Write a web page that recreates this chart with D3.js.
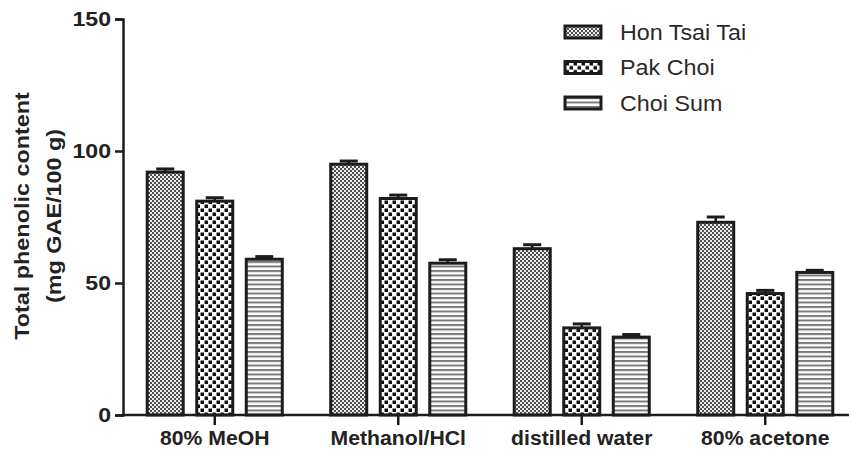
<!DOCTYPE html>
<html>
<head>
<meta charset="utf-8">
<script src="https://cdn.jsdelivr.net/npm/d3@7"></script>
<style>
  html, body { margin: 0; padding: 0; background: #fff; }
  svg { display: block; font-family: "Liberation Sans", Arial, sans-serif; }
</style>
</head>
<body>
<svg id="chart" width="853" height="454"></svg>
<script>
// Extraction solvents (x categories)
const categories = ["80% MeOH", "Methanol/HCl", "distilled water", "80% acetone"];
// Cultivars (series)
const seriesNames = ["Hon Tsai Tai", "Pak Choi", "Choi Sum"];
// Mean total phenolic content, mg GAE/100 g
const honTsaiTai = [92, 95, 63, 73];
const pakChoi = [81, 82, 33, 46];
const choiSum = [59, 57.5, 29.5, 54];
// Standard error of each mean
const honTsaiTaiErr = [1.2, 1.2, 1.5, 2];
const pakChoiErr = [1.3, 1.3, 1.5, 1.2];
const choiSumErr = [1, 1.3, 1, 0.8];
// Y-axis ticks
const yTicks = [0, 50, 100, 150];

const seriesValues = [honTsaiTai, pakChoi, choiSum];
const seriesErrors = [honTsaiTaiErr, pakChoiErr, choiSumErr];

const ink = "#1c1c1c";
const svg = d3.select("#chart");

// Fill patterns for the three cultivars
const defs = svg.append("defs");
const pFine = defs.append("pattern").attr("id", "pat0")
  .attr("patternUnits", "userSpaceOnUse").attr("width", 4).attr("height", 4);
pFine.append("rect").attr("width", 4).attr("height", 4).attr("fill", "#ebebeb");
pFine.append("rect").attr("x", 0).attr("y", 0).attr("width", 2).attr("height", 2).attr("fill", "#505050");
pFine.append("rect").attr("x", 2).attr("y", 2).attr("width", 2).attr("height", 2).attr("fill", "#505050");

const pCheck = defs.append("pattern").attr("id", "pat1")
  .attr("patternUnits", "userSpaceOnUse").attr("width", 8).attr("height", 8);
pCheck.append("rect").attr("width", 8).attr("height", 8).attr("fill", "#fff");
pCheck.append("rect").attr("x", 0.5).attr("y", 0.5).attr("width", 3.5).attr("height", 3.5).attr("fill", "#111");
pCheck.append("rect").attr("x", 4.5).attr("y", 4.5).attr("width", 3.5).attr("height", 3.5).attr("fill", "#111");

const pStripe = defs.append("pattern").attr("id", "pat2")
  .attr("patternUnits", "userSpaceOnUse").attr("width", 4.5).attr("height", 4.5);
pStripe.append("rect").attr("width", 4.5).attr("height", 4.5).attr("fill", "#fff");
pStripe.append("rect").attr("x", 0).attr("y", 0).attr("width", 4.5).attr("height", 2).attr("fill", "#7a7a7a");

// Scales
const x0 = d3.scaleBand().domain(categories).range([123, 857])
  .paddingInner(0.264).paddingOuter(0.132);
const x1 = d3.scaleBand().domain(seriesNames).range([0, x0.bandwidth()]).paddingInner(0.273);
const y = d3.scaleLinear().domain([0, 150]).range([415, 19]);

// Bars
const rows = [];
categories.forEach((c, i) => {
  seriesNames.forEach((s, j) => {
    rows.push({ cat: c, s: s, j: j, v: seriesValues[j][i], e: seriesErrors[j][i] });
  });
});

const g = svg.append("g");
const capHalf = x1.bandwidth() * 0.25;

// Error bars (drawn first so the bar outline sits over the stem)
const eb = g.selectAll("g.err").data(rows).join("g").attr("class", "err");
eb.append("line")
  .attr("x1", d => x0(d.cat) + x1(d.s) + x1.bandwidth() / 2)
  .attr("x2", d => x0(d.cat) + x1(d.s) + x1.bandwidth() / 2)
  .attr("y1", d => y(d.v))
  .attr("y2", d => y(d.v + d.e))
  .attr("stroke", ink).attr("stroke-width", 2.5);
eb.append("line")
  .attr("x1", d => x0(d.cat) + x1(d.s) + x1.bandwidth() / 2 - capHalf)
  .attr("x2", d => x0(d.cat) + x1(d.s) + x1.bandwidth() / 2 + capHalf)
  .attr("y1", d => y(d.v + d.e))
  .attr("y2", d => y(d.v + d.e))
  .attr("stroke", ink).attr("stroke-width", 3);

g.selectAll("rect.bar").data(rows).join("rect").attr("class", "bar")
  .attr("x", d => x0(d.cat) + x1(d.s))
  .attr("y", d => y(d.v))
  .attr("width", x1.bandwidth())
  .attr("height", d => y(0) - y(d.v))
  .attr("fill", d => `url(#pat${d.j})`)
  .attr("stroke", ink).attr("stroke-width", 3);

// Y axis
const yAxis = svg.append("g").attr("transform", "translate(123,0)")
  .call(d3.axisLeft(y).tickValues(yTicks).tickSize(8).tickPadding(4));
yAxis.select(".domain").attr("stroke", ink).attr("stroke-width", 2.5);
yAxis.selectAll(".tick line").attr("stroke", ink).attr("stroke-width", 2.5);
const yStretch = 1.1;
yAxis.selectAll(".tick text")
  .attr("font-size", 21).attr("font-weight", "bold").attr("fill", "#222")
  .attr("font-family", "Liberation Sans, Arial, sans-serif")
  .attr("x", -12 / yStretch)
  .attr("transform", `scale(${yStretch},1)`);

// X axis
const xAxis = svg.append("g").attr("transform", "translate(0,415)")
  .call(d3.axisBottom(x0).tickSize(10).tickPadding(6).tickSizeOuter(0));
xAxis.select(".domain").remove();
xAxis.append("line").attr("x1", 122).attr("x2", 849).attr("y1", 0).attr("y2", 0)
  .attr("stroke", ink).attr("stroke-width", 2.5);
xAxis.selectAll(".tick line").attr("stroke", ink).attr("stroke-width", 2.5);
xAxis.selectAll(".tick text")
  .attr("font-size", 20).attr("font-weight", "bold").attr("fill", "#222")
  .attr("font-family", "Liberation Sans, Arial, sans-serif")
  .attr("transform", "scale(1.06,1)");

// Y-axis title (two lines), slightly stretched along its length
const title = svg.append("text")
  .attr("transform", "translate(0,216) rotate(-90) scale(1.17,1)")
  .attr("text-anchor", "middle")
  .attr("font-size", 20).attr("font-weight", "bold").attr("fill", "#222");
title.append("tspan").attr("x", 0).attr("y", 29).text("Total phenolic content");
title.append("tspan").attr("x", 0).attr("y", 61).text("(mg GAE/100 g)");

// Legend
const legend = svg.append("g").selectAll("g").data(seriesNames).join("g")
  .attr("transform", (d, i) => `translate(565,${26 + i * 35.5})`);
legend.append("rect")
  .attr("width", 36).attr("height", 12)
  .attr("fill", (d, i) => `url(#pat${i})`)
  .attr("stroke", ink).attr("stroke-width", 3);
legend.append("text")
  .attr("transform", "translate(55,6) scale(1.06,1)")
  .attr("dy", "0.35em")
  .attr("font-size", 22).attr("fill", "#2a2a2a")
  .text(d => d);
</script>
</body>
</html>
